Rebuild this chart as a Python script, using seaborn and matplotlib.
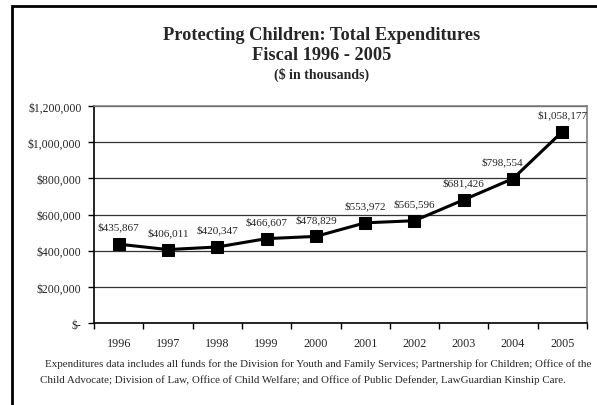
import matplotlib
matplotlib.use("Agg")
import matplotlib.pyplot as plt
import seaborn as sns
import pandas as pd
from matplotlib.patches import Rectangle
from matplotlib.ticker import FuncFormatter

years = ["1996", "1997", "1998", "1999", "2000", "2001", "2002", "2003", "2004", "2005"]
expenditures = [435867, 406011, 420347, 466607, 478829, 553972, 565596, 681426, 798554, 1058177]
yticks = [0, 200000, 400000, 600000, 800000, 1000000, 1200000]

title_lines = ["Protecting Children: Total Expenditures", "Fiscal 1996 - 2005"]
subtitle = "($ in thousands)"
footnote1 = ("Expenditures data includes all funds for the Division for Youth and Family Services; "
             "Partnership for Children; Office of the")
footnote2 = ("Child Advocate; Division of Law, Office of Child Welfare; and Office of Public Defender, "
             "LawGuardian Kinship Care.")

sns.set_style("white")
plt.rcParams["font.family"] = ["Liberation Serif", "DejaVu Serif"]

W, H = 597, 406
fig = plt.figure(figsize=(W / 100, H / 100), dpi=100)
ax = fig.add_axes([94 / W, 1 - 324 / H, (587 - 94) / W, (324 - 107) / H])

df = pd.DataFrame({"year": years, "value": expenditures})
df["x"] = range(len(years))
sns.lineplot(data=df, x="x", y="value", ax=ax, color="black", linewidth=2.2,
             marker="s", markersize=8, markeredgecolor="black", markerfacecolor="black")

ax.set_xlim(-0.5, len(years) - 0.5)
ax.set_ylim(0, 1200000)
ax.set_yticks(yticks)

def fmt(v, pos=None):
    if v == 0:
        return "$-"
    return "${:,.0f}".format(v)

ax.yaxis.set_major_formatter(FuncFormatter(fmt))
ax.set_xticks([i - 0.5 for i in range(len(years) + 1)])
ax.set_xticklabels([])
ax.set_xticks(range(len(years)), minor=True)
ax.set_xticklabels(years, minor=True)
ax.tick_params(axis="x", which="major", direction="out", length=4, width=1, color="black", bottom=True)
ax.tick_params(axis="x", which="minor", length=0, labelsize=8.7, pad=10)
ax.tick_params(axis="y", direction="out", length=4, width=1, color="black", left=True, labelsize=8.5, pad=5)
ax.set_xlabel("")
ax.set_ylabel("")

ax.grid(axis="y", color="#333333", linewidth=0.9)
ax.grid(axis="x", visible=False)
ax.set_axisbelow(True)
for s in ["left", "bottom"]:
    ax.spines[s].set_color("black")
    ax.spines[s].set_linewidth(1.2)
for s in ["top", "right"]:
    ax.spines[s].set_color("#808080")
    ax.spines[s].set_linewidth(1.2)

for xi, v in zip(df["x"], expenditures):
    dx = -8 if xi == 8 else 0
    ax.annotate("${:,.0f}".format(v), (xi, v), xytext=(dx, 9), textcoords="offset points",
                ha="center", va="bottom", fontsize=8)

cx = 322 / W
fig.text(cx, 1 - 35 / H, title_lines[0], ha="center", va="center", fontsize=13.2, fontweight="bold")
fig.text(cx, 1 - 55 / H, title_lines[1], ha="center", va="center", fontsize=13.2, fontweight="bold")
fig.text(cx, 1 - 75 / H, subtitle, ha="center", va="center", fontsize=10, fontweight="bold")

fig.text(318 / W, 1 - 364 / H, footnote1, ha="center", va="center", fontsize=7.9)
fig.text(303 / W, 1 - 380 / H, footnote2, ha="center", va="center", fontsize=7.9)

fig.patches.append(Rectangle((12 / W, -0.1), 1.2, 1 - 7 / H + 0.1, transform=fig.transFigure,
                             fill=False, edgecolor="black", linewidth=2))

fig.savefig("out.png", dpi=100)
